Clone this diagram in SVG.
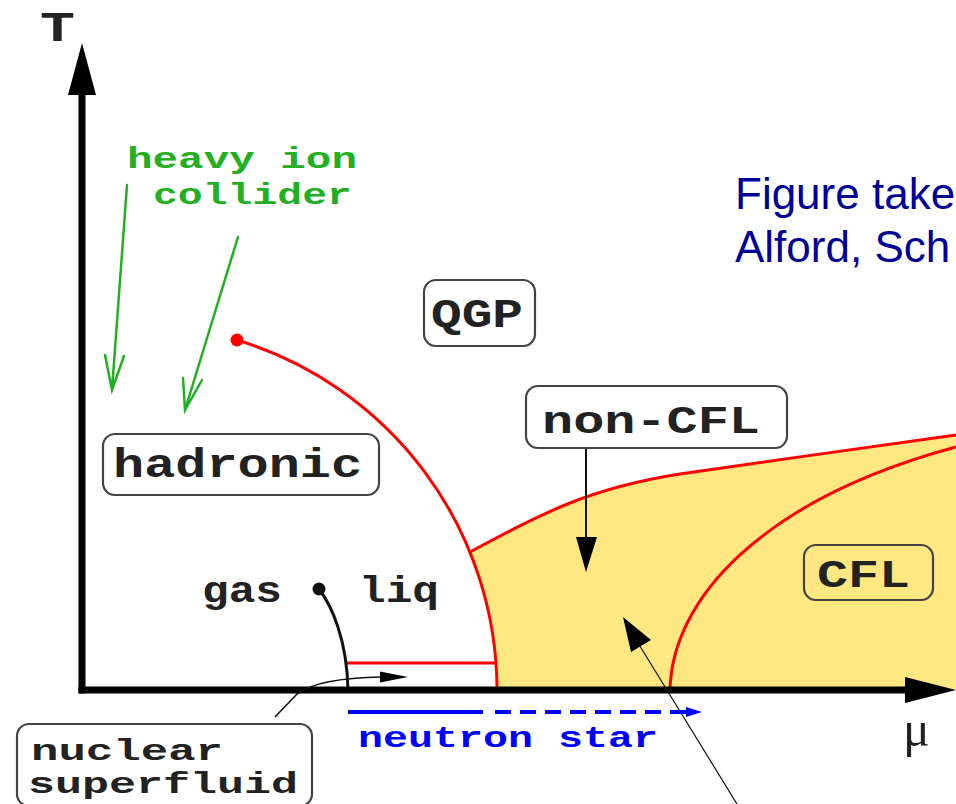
<svg xmlns="http://www.w3.org/2000/svg" width="956" height="804" viewBox="0 0 956 804">
<style>
.mono{font-family:"Liberation Mono","DejaVu Sans Mono",monospace;font-weight:bold;fill:#222}
.box{fill:#fff;stroke:#444;stroke-width:2.2}
.red{fill:none;stroke:#ff0000;stroke-width:3}
.green{fill:none;stroke:#22b022;stroke-width:2.5;stroke-linecap:round}
.gtext{fill:#22b022}
</style>
<rect width="956" height="804" fill="#fff"/>

<g id="cfl-region">
<path d="M470,552 C545,512 590,488 680,474 C760,462 880,446 956,435 L956,690 L497,690 A366,366 0 0 0 470,552 z" fill="#ffe882"/>
</g>

<g id="phase-lines">
<path class="red" d="M237,340 A366,366 0 0 1 497,690"/>
<path class="red" d="M470,552 C545,512 590,488 680,474 C760,462 880,446 956,435"/>
<path class="red" d="M670,690 C672,600 760,500 956,447"/>
<path class="red" d="M347,663 L497,663"/>
<circle cx="237" cy="340" r="6.5" fill="#ff0000"/>
<path d="M319,589 C332,606 347,640 348,690" fill="none" stroke="#111" stroke-width="3"/>
<circle cx="319" cy="589" r="6.5" fill="#111"/>
</g>

<g id="axes">
<line x1="82" y1="92" x2="82" y2="693.5" stroke="#000" stroke-width="7"/>
<line x1="78.5" y1="690" x2="908" y2="690" stroke="#000" stroke-width="7"/>
<polygon points="82,43 96,95 68,95" fill="#000"/>
<polygon points="956,690 905,677 905,703" fill="#000"/>
<text class="mono" x="40" y="41" font-size="42" textLength="35" lengthAdjust="spacingAndGlyphs">T</text>
<text x="903" y="746" font-family="'Liberation Serif',serif" font-size="50" fill="#222">μ</text>
</g>

<g id="heavy-ion">
<text class="mono gtext" x="127" y="168" font-size="29" textLength="230" lengthAdjust="spacingAndGlyphs">heavy ion</text>
<text class="mono gtext" x="153" y="204" font-size="30" textLength="199" lengthAdjust="spacingAndGlyphs">collider</text>
</g>

<g id="connectors">
<path class="green" d="M127,185 L112,390 M105,355 L112,390 L124,356"/>
<path class="green" d="M238,237 L185,410 M183,378 L185,410 L202,380"/>
<line x1="586" y1="448" x2="586" y2="540" stroke="#111" stroke-width="2"/>
<polygon points="576,537 597,537 586,572" fill="#000"/>
<line x1="737" y1="804" x2="630" y2="630" stroke="#111" stroke-width="1.2"/>
<polygon points="623,617 631,652 651,640" fill="#000"/>
<path d="M275,717 L297,694 Q318,678 382,677" fill="none" stroke="#111" stroke-width="1.6"/>
<polygon points="408,677 380,671.5 380,682.5" fill="#000"/>
<line x1="348" y1="712" x2="483" y2="712" stroke="#0000ff" stroke-width="4"/>
<line x1="495" y1="712" x2="690" y2="712" stroke="#0000ff" stroke-width="4" stroke-dasharray="16 9"/>
<polygon points="702,712 686,707 686,717" fill="#0000ff"/>
</g>

<g id="node-qgp">
<rect class="box" x="424" y="280" width="111" height="66" rx="12"/>
<text class="mono" x="431" y="327" font-size="41" textLength="92" lengthAdjust="spacingAndGlyphs">QGP</text>
</g>

<g id="node-hadronic">
<rect class="box" x="103" y="434" width="276" height="61" rx="12"/>
<text class="mono" x="113" y="477" font-size="40" textLength="249" lengthAdjust="spacingAndGlyphs">hadronic</text>
</g>

<g id="node-noncfl">
<rect class="box" x="526" y="386" width="261" height="62" rx="12"/>
<text class="mono" x="542" y="433" font-size="38" textLength="218" lengthAdjust="spacingAndGlyphs">non-CFL</text>
</g>

<g id="node-cfl">
<rect x="804" y="545" width="129" height="55" rx="12" fill="none" stroke="#444" stroke-width="2.2"/>
<text class="mono" x="817" y="587" font-size="38" textLength="93" lengthAdjust="spacingAndGlyphs">CFL</text>
</g>

<g id="gas-liq">
<text class="mono" x="202" y="602" font-size="36" textLength="80" lengthAdjust="spacingAndGlyphs">gas</text>
<text class="mono" x="359" y="602" font-size="36" textLength="80" lengthAdjust="spacingAndGlyphs">liq</text>
</g>

<g id="node-nuclear">
<rect class="box" x="17" y="724" width="295" height="82" rx="12"/>
<text class="mono" x="31" y="760" font-size="29" textLength="192" lengthAdjust="spacingAndGlyphs">nuclear</text>
<text class="mono" x="28" y="793" font-size="29" textLength="270" lengthAdjust="spacingAndGlyphs">superfluid</text>
</g>

<g id="neutron-star">
<text class="mono" x="358" y="747" font-size="30" textLength="300" lengthAdjust="spacingAndGlyphs" style="fill:#0000ff">neutron star</text>
</g>

<g id="caption">
<text x="735" y="209" font-family="'Liberation Sans',Arial,sans-serif" font-size="44" fill="#000099">Figure take</text>
<text x="735" y="262" font-family="'Liberation Sans',Arial,sans-serif" font-size="44" fill="#000099">Alford, Sch</text>
</g>
</svg>
